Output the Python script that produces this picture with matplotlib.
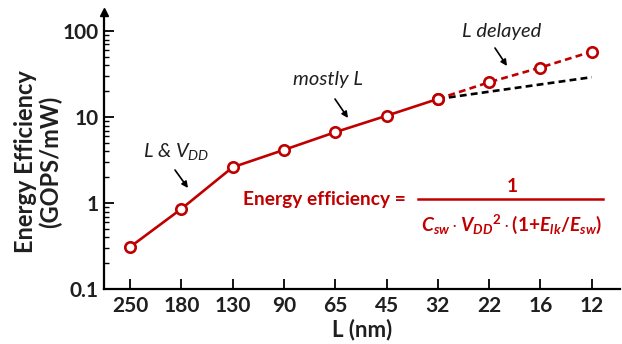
import matplotlib
matplotlib.use("Agg")
import matplotlib.pyplot as plt
from matplotlib.ticker import FixedLocator, FixedFormatter, LogLocator, NullFormatter

plt.rcParams['font.family'] = ['Lato', 'DejaVu Sans']
plt.rcParams['mathtext.fontset'] = 'custom'
plt.rcParams['mathtext.rm'] = 'Lato'
plt.rcParams['mathtext.it'] = 'Lato:italic'
plt.rcParams['mathtext.bf'] = 'Lato:italic:bold'
plt.rcParams['mathtext.sf'] = 'Lato:bold'

# Technology nodes and energy efficiency (GOPS/mW)
nodes = ["250", "180", "130", "90", "65", "45", "32", "22", "16", "12"]
eff_scaled = [0.31, 0.86, 2.62, 4.17, 6.7, 10.4, 16.3]          # 250 .. 32 nm
eff_delayed = [16.3, 25.5, 37.8, 57.9]                           # 32 .. 12 nm
eff_trend = [16.3, 29.2]                                         # 32 -> 12 nm trend
y_ticks = [0.1, 1, 10, 100]
y_tick_labels = ["0.1", "1", "10", "100"]

RED = "#C00000"
INK = "#1f1f1f"
W, H = 622, 344
fig = plt.figure(figsize=(W / 100, H / 100), dpi=100)
ax = fig.add_axes([104 / W, (H - 289.3) / H, (620 - 104) / W, (289.3 - 12) / H])

x_all = list(range(len(nodes)))
i32 = nodes.index("32")
x_scaled = x_all[: i32 + 1]
x_delayed = x_all[i32:]
x_trend = [x_all[i32], x_all[-1]]

ax.set_yscale("log")
ax.set_xlim(-0.507, 9.55)
ax.set_ylim(0.1, 167)

ax.plot(x_trend, eff_trend, color="black", lw=1.9, ls=(0, (2.6, 1.6)), zorder=2)
ax.plot(x_delayed, eff_delayed, color=RED, lw=1.9, ls=(0, (2.6, 1.6)),
        marker="o", ms=7.5, mfc="white", mec=RED, mew=1.9, zorder=3)
ax.plot(x_scaled, eff_scaled, color=RED, lw=1.9,
        marker="o", ms=7.5, mfc="white", mec=RED, mew=1.9, zorder=4)

# axes styling
for side in ("top", "right"):
    ax.spines[side].set_visible(False)
for side in ("left", "bottom"):
    ax.spines[side].set_linewidth(1.6)
ax.plot(0, 1.0, marker="^", color="black", ms=6, transform=ax.transAxes,
        clip_on=False, zorder=5)

ax.xaxis.set_major_locator(FixedLocator(x_all))
ax.xaxis.set_major_formatter(FixedFormatter(nodes))
ax.yaxis.set_major_locator(FixedLocator(y_ticks))
ax.yaxis.set_major_formatter(FixedFormatter(y_tick_labels))
ax.yaxis.set_minor_locator(LogLocator(base=10, subs=range(2, 10)))
ax.yaxis.set_minor_formatter(NullFormatter())
ax.tick_params(axis="both", which="major", direction="in", length=7, width=1.3,
               labelsize=15, labelcolor=INK)
ax.tick_params(axis="y", which="major", pad=4)
ax.tick_params(axis="x", which="major", pad=5)
ax.tick_params(axis="y", which="minor", direction="in", length=3.5, width=1.0)
for lab in ax.get_xticklabels() + ax.get_yticklabels():
    lab.set_fontweight("bold")

fig.text(362 / W, (H - 330) / H, "L (nm)", ha="center", va="center",
         fontsize=16, fontweight="bold", color=INK)
fig.text(38 / W, (H - 162) / H, "Energy Efficiency\n(GOPS/mW)", rotation=90,
         ha="center", va="center", fontsize=17, fontweight="bold", color=INK,
         linespacing=1.12)

# annotations
def fp(x, y):
    return (x, H - y)

arrow = dict(arrowstyle="-|>", color="black", lw=1.2, mutation_scale=9,
             shrinkA=0, shrinkB=0)
fig.text(176 / W, (H - 152) / H, r"L & $V_{DD}$", ha="center",
         va="center", fontsize=14.5, style="italic", color=INK)
ax.annotate("", xy=fp(188, 188), xytext=fp(175, 170), xycoords="figure pixels",
            textcoords="figure pixels", arrowprops=arrow)
fig.text(328 / W, (H - 80) / H, "mostly L", ha="center", va="center",
         fontsize=14.5, style="italic", color=INK)
ax.annotate("", xy=fp(348, 118), xytext=fp(335, 99), xycoords="figure pixels",
            textcoords="figure pixels", arrowprops=arrow)
fig.text(502 / W, (H - 31) / H, "L delayed", ha="center", va="center",
         fontsize=14.5, style="italic", color=INK)
ax.annotate("", xy=fp(507, 66), xytext=fp(495, 48), xycoords="figure pixels",
            textcoords="figure pixels", arrowprops=arrow)

# energy efficiency formula
fig.text(324 / W, (H - 200) / H, "Energy efficiency =", ha="center", va="center",
         fontsize=13.8, fontweight="bold", color=RED)
fig.text(512 / W, (H - 186) / H, "1", ha="center", va="center",
         fontsize=13.8, fontweight="bold", color=RED)
fig.add_artist(plt.Line2D([418 / W, 603 / W], [(H - 199) / H, (H - 199) / H],
                          color=RED, lw=1.8))
fig.text(511 / W, (H - 224) / H,
         r"$\mathbf{C_{sw}}\cdot\mathbf{V_{DD}}{}^{\mathsf{2}}\cdot\mathsf{(1}{\mathsf{+}}"
         r"\mathbf{E_{lk}}\mathsf{/}\mathbf{E_{sw}}\mathsf{)}$",
         ha="center", va="center", fontsize=13.8, color=RED)

fig.savefig("out.png", dpi=100)
